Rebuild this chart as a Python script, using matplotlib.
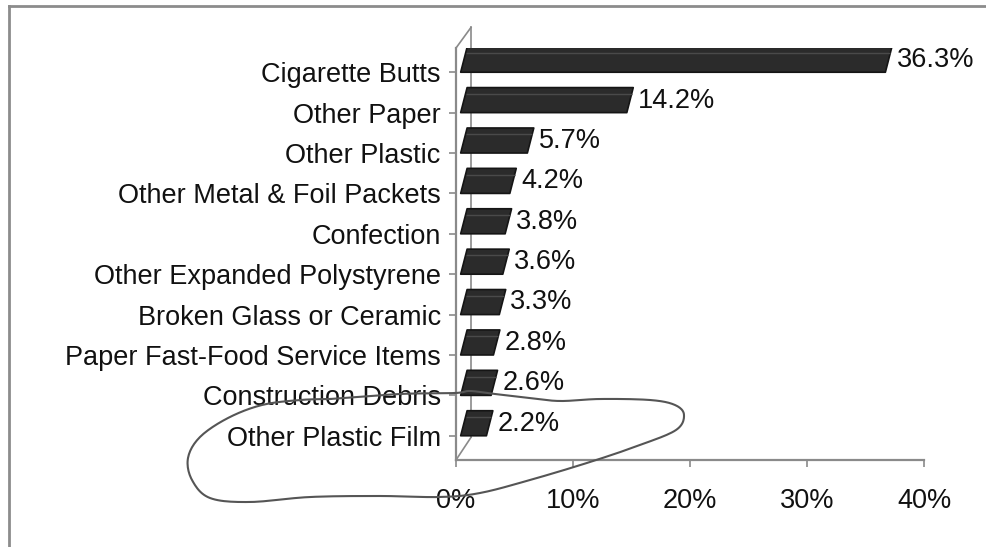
import matplotlib.pyplot as plt
import numpy as np
from matplotlib.patches import Polygon
from matplotlib.lines import Line2D
import matplotlib.transforms as mtransforms

plt.rcParams['font.family'] = ['Liberation Sans', 'DejaVu Sans']

categories = [
    'Cigarette Butts', 'Other Paper', 'Other Plastic',
    'Other Metal & Foil Packets', 'Confection', 'Other Expanded Polystyrene',
    'Broken Glass or Ceramic', 'Paper Fast-Food Service Items',
    'Construction Debris', 'Other Plastic Film'
]
shares = [36.3, 14.2, 5.7, 4.2, 3.8, 3.6, 3.3, 2.8, 2.6, 2.2]
x_ticks = [0, 10, 20, 30, 40]
x_tick_labels = ['0%', '10%', '20%', '30%', '40%']

fig = plt.figure(figsize=(9.87, 5.47), dpi=100)
W, H = 987, 547
ax = fig.add_axes([456 / W, (H - 460) / H, (924 - 456) / W, (460 - 48) / H])

n = len(categories)
ypos = np.arange(n)[::-1]  # Cigarette Butts on top
ax.set_xlim(0, 40)
ax.set_ylim(-0.6, 9.6)

axis_col = '#8a8a8a'
for s in ['top', 'right']:
    ax.spines[s].set_visible(False)
for s in ['left', 'bottom']:
    ax.spines[s].set_color(axis_col)
    ax.spines[s].set_linewidth(1.6)

ax.set_yticks(ypos)
ax.set_yticklabels(categories, fontsize=19.5, color='#111111')
ax.set_xticks(x_ticks)
ax.set_xticklabels(x_tick_labels, fontsize=19.5, color='#111111')
ax.tick_params(axis='y', length=5, width=1.2, color=axis_col, pad=6)
ax.tick_params(axis='x', length=5, width=1.2, color=axis_col, pad=15)

# back wall edges of the 3D frame
back = mtransforms.offset_copy(ax.transAxes, fig=fig, x=15, y=0, units='dots')
ax.add_line(Line2D([0, 0], [0.055, 1.05], transform=back, color=axis_col,
                   lw=1.2, clip_on=False))
ax.add_line(Line2D([0, 15 / 468], [1.0, 1.05], transform=ax.transAxes,
                   color=axis_col, lw=1.2, clip_on=False))
ax.add_line(Line2D([0, 15 / 468], [0.0, 0.055], transform=ax.transAxes,
                   color=axis_col, lw=1.2, clip_on=False))

# pseudo-3D bars drawn as slanted slabs
x0 = 0.4       # gap between front wall and bar
dx = 0.55      # depth shift of the top edge (x units)
bar_h = 0.62
for y, v in zip(ypos, shares):
    slab = [(x0, y), (x0 + v, y), (x0 + v + dx, y + bar_h), (x0 + dx, y + bar_h)]
    ax.add_patch(Polygon(slab, closed=True, facecolor='#2b2b2b',
                         edgecolor='#151515', lw=1.2, joinstyle='round',
                         zorder=3))
    # faint ridge between front and top faces
    ax.plot([x0 + dx * 0.75, x0 + v + dx * 0.75], [y + bar_h * 0.75] * 2,
            color='#4a4a4a', lw=1.0, zorder=4, solid_capstyle='butt')
    ax.text(x0 + v + dx + 0.4, y + 0.3, f'{v:.1f}%', fontsize=19.5,
            va='center', ha='left', color='#111111', zorder=4)

# outer frame of the chart area
fig.add_artist(Line2D([9 / W, 1], [1 - 6 / H, 1 - 6 / H], color='#8c8c8c',
                      lw=2, transform=fig.transFigure))
fig.add_artist(Line2D([9 / W, 9 / W], [0, 1 - 6 / H], color='#8c8c8c',
                      lw=2, transform=fig.transFigure))

# hand-drawn loop around the smallest items (pixel positions, smoothed)
loop = np.array([(330, 399), (400, 394), (455, 393), (470, 391), (495, 394),
                 (530, 398), (560, 401), (600, 399), (650, 400), (675, 405),
                 (684, 415), (676, 430), (640, 445), (590, 462), (530, 480),
                 (480, 493), (440, 497), (380, 496), (310, 497), (250, 502),
                 (210, 498), (192, 480), (188, 458), (200, 437), (228, 418),
                 (262, 405), (300, 400), (330, 399)], dtype=float)


def catmull_rom(pts, steps=12):
    p = np.vstack([pts[0], pts, pts[-1]])
    out = []
    for i in range(1, len(p) - 2):
        p0, p1, p2, p3 = p[i - 1], p[i], p[i + 1], p[i + 2]
        for t in np.linspace(0, 1, steps, endpoint=False):
            t2, t3 = t * t, t * t * t
            out.append(0.5 * ((2 * p1) + (-p0 + p2) * t
                              + (2 * p0 - 5 * p1 + 4 * p2 - p3) * t2
                              + (-p0 + 3 * p1 - 3 * p2 + p3) * t3))
    out.append(p[-2])
    return np.array(out)


smooth = catmull_rom(loop)
fig.add_artist(Line2D(smooth[:, 0] / W, 1 - smooth[:, 1] / H, color='#555555',
                      lw=1.5, transform=fig.transFigure))

plt.savefig('out.png', dpi=100)
